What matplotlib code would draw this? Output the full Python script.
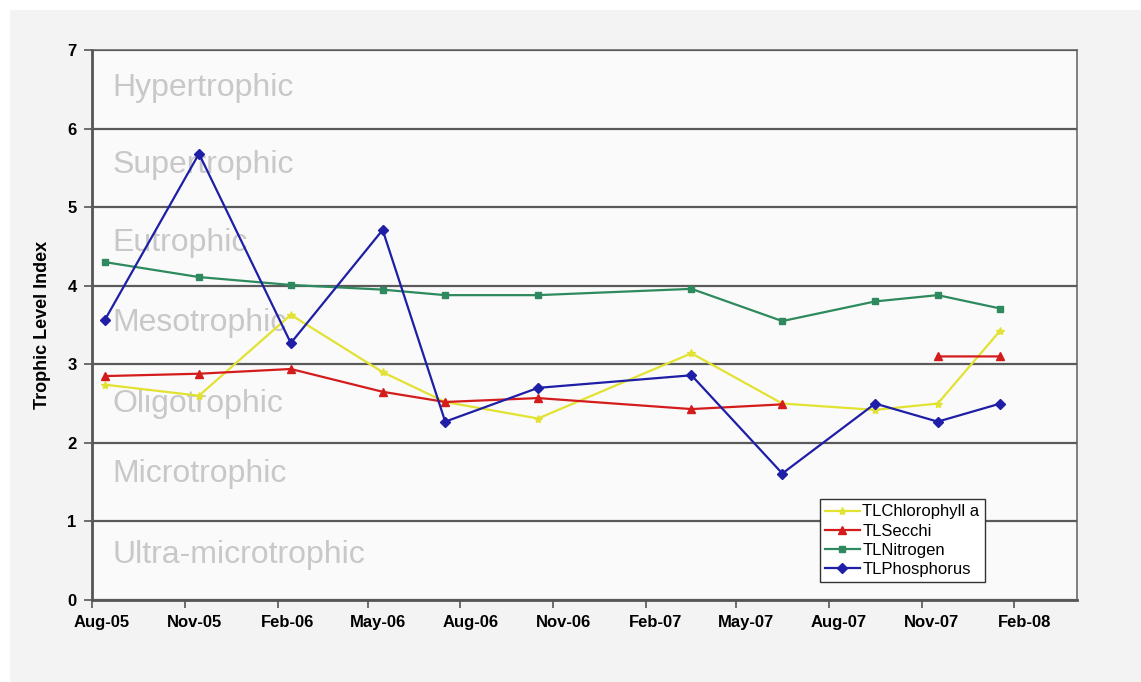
#trophic_level.py
#plot trophic level index for chlorophyll, secchi, nitrogen and phosphorus over time
import numpy as np
import pandas as pd
from matplotlib import pyplot as plt
import matplotlib.transforms as mtransforms
from matplotlib.patches import Rectangle

plt.rcParams['font.family'] = ['Liberation Sans', 'DejaVu Sans']

sample_dates = ['2005-08-14', '2005-11-15', '2006-02-14', '2006-05-16', '2006-07-17', '2006-10-17',
                '2007-03-18', '2007-06-16', '2007-09-16', '2007-11-17', '2008-01-18']
tl_chlorophyll = [2.74, 2.60, 3.63, 2.90, 2.52, 2.31, 3.14, 2.50, 2.42, 2.50, 3.43]
tl_secchi = [2.85, 2.88, 2.94, 2.65, 2.52, 2.57, 2.43, 2.49, np.nan, 3.10, 3.10]
tl_nitrogen = [4.30, 4.11, 4.01, 3.95, 3.88, 3.88, 3.96, 3.55, 3.80, 3.88, 3.71]
tl_phosphorus = [3.57, 5.68, 3.27, 4.71, 2.27, 2.70, 2.86, 1.61, 2.50, 2.27, 2.50]

tick_dates = ['2005-08-01', '2005-11-01', '2006-02-01', '2006-05-01', '2006-08-01', '2006-11-01',
              '2007-02-01', '2007-05-01', '2007-08-01', '2007-11-01', '2008-02-01']
tick_labels = ['Aug-05', 'Nov-05', 'Feb-06', 'May-06', 'Aug-06', 'Nov-06',
               'Feb-07', 'May-07', 'Aug-07', 'Nov-07', 'Feb-08']

zone_names = ['Hypertrophic', 'Supertrophic', 'Eutrophic', 'Mesotrophic',
              'Oligotrophic', 'Microtrophic', 'Ultra-microtrophic']
zone_y = [6.52, 5.54, 4.54, 3.52, 2.49, 1.6, 0.57]

dates = pd.to_datetime(sample_dates)
ticks = pd.to_datetime(tick_dates)

fig = plt.figure(figsize=(11.41, 6.82), dpi=100, facecolor='white')
#light grey panel behind the chart, white strip along top and left edge
fig.patches.append(Rectangle((10/1141, 0), 1 - 10/1141, 1 - 10/682, transform=fig.transFigure,
                             facecolor='#f3f3f3', edgecolor='none', zorder=-5))
ax = fig.add_axes([92/1141, 82/682, 985/1141, 550/682])
ax.set_facecolor('#fafafa')

for name, y in zip(zone_names, zone_y):
    ax.text(0.021, y, name, transform=ax.get_yaxis_transform(), fontsize=23,
            color='#c8c8c8', va='center', ha='left', zorder=1)

ax.plot(dates, tl_chlorophyll, color='#e2e232', marker='*', markersize=6, lw=1.6, label='TLChlorophyll a', zorder=3)
ax.plot(dates, tl_secchi, color='#d41c1c', marker='^', markersize=6, lw=1.6, label='TLSecchi', zorder=3)
ax.plot(dates, tl_nitrogen, color='#2e8a5e', marker='s', markersize=5, lw=1.6, label='TLNitrogen', zorder=3)
ax.plot(dates, tl_phosphorus, color='#1e1ea6', marker='D', markersize=5, lw=1.6, label='TLPhosphorus', zorder=3)

ax.set_ylim(0, 7)
ax.set_yticks(range(8))
ax.set_xlim(pd.Timestamp('2005-08-01'), pd.Timestamp('2008-04-03'))
ax.set_xticks(ticks)
ax.set_xticklabels(tick_labels)
ax.grid(axis='y', color='#5a5a5a', lw=1.6, zorder=2)
ax.set_axisbelow(False)
for s in ax.spines.values():
    s.set_color('#6a6a6a')
    s.set_linewidth(1.2)
ax.spines['left'].set_color('#555555')
ax.spines['left'].set_linewidth(2)
ax.spines['bottom'].set_color('#555555')
ax.spines['bottom'].set_linewidth(2)
ax.tick_params(axis='both', direction='out', length=6, width=1.2, color='#555555',
               labelsize=12, pad=5)
for lab in ax.get_xticklabels() + ax.get_yticklabels():
    lab.set_fontweight('bold')
#excel puts date labels a bit right of the tick
offset = mtransforms.ScaledTranslation(10/100, 0, fig.dpi_scale_trans)
for lab in ax.get_xticklabels():
    lab.set_transform(lab.get_transform() + offset)

ax.set_ylabel('Trophic Level Index', fontsize=13, fontweight='bold', labelpad=12)

leg = ax.legend(loc='lower left', bbox_to_anchor=(0.739, 0.033), fontsize=12, frameon=True,
                fancybox=False, edgecolor='#333333', framealpha=1, handlelength=2.1,
                handletextpad=0.15, borderpad=0.3, labelspacing=0.25, borderaxespad=0)
leg.get_frame().set_linewidth(1.0)
leg.set_zorder(5)

plt.savefig('out.png', dpi=100, facecolor=fig.get_facecolor())
